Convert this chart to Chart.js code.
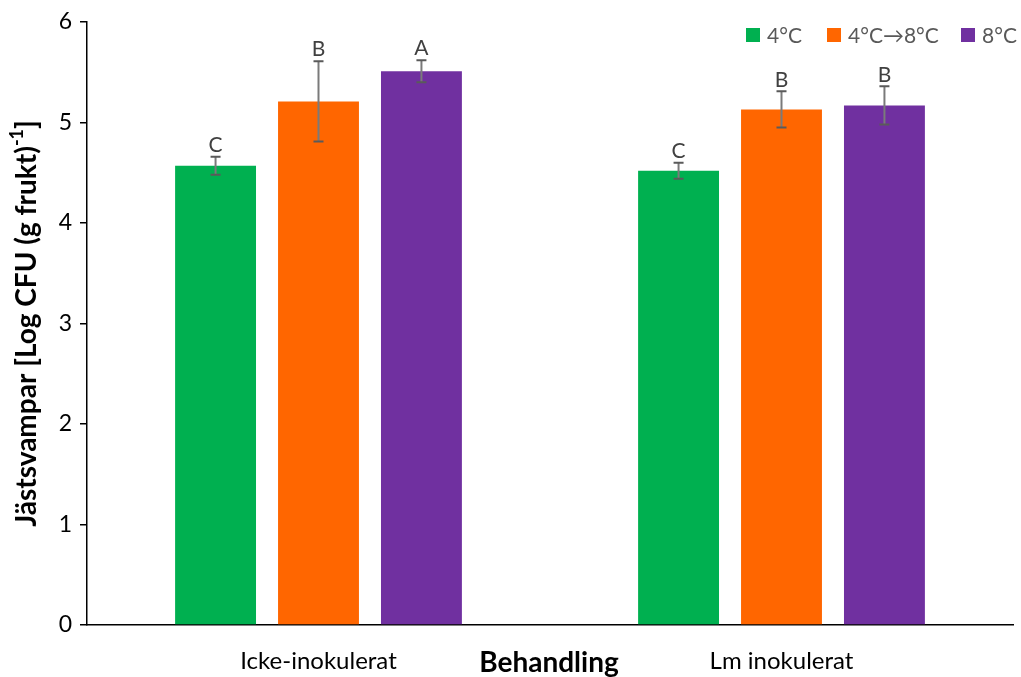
<!DOCTYPE html>
<html>
<head>
<meta charset="utf-8">
<script src="https://cdn.jsdelivr.net/npm/chart.js@4/dist/chart.umd.min.js"></script>
<style>
  html, body { margin: 0; padding: 0; background: #fff; }
  #wrap { width: 1021px; height: 677px; }
</style>
</head>
<body>
<div id="wrap"><canvas id="chart" width="1021" height="677"></canvas></div>
<script>
// Yeast counts per treatment and storage temperature
const categories = ['Icke-inokulerat', 'Lm inokulerat'];
const seriesNames = ['4°C', '4°C\u21928°C', '8°C'];
const seriesColors = ['#00b050', '#ff6600', '#7030a0'];

const values4 = [4.57, 4.52];
const values48 = [5.21, 5.13];
const values8 = [5.51, 5.17];

const err4 = [0.09, 0.08];
const err48 = [0.40, 0.18];
const err8 = [0.11, 0.19];

const letters4 = ['C', 'C'];
const letters48 = ['B', 'B'];
const letters8 = ['A', 'B'];

const yTicks = [0, 1, 2, 3, 4, 5, 6];

const FONT = 'Lato, "Open Sans", sans-serif';

const seriesValues = [values4, values48, values8];
const seriesErrors = [err4, err48, err8];
const seriesLetters = [letters4, letters48, letters8];

// Error bars, significance letters, legend and axis titles
const extras = {
    id: 'extras',
    afterDatasetsDraw(chart) {
        const ctx = chart.ctx;
        const y = chart.scales.y;
        const area = chart.chartArea;

        chart.data.datasets.forEach((ds, i) => {
            const meta = chart.getDatasetMeta(i);
            meta.data.forEach((bar, j) => {
                const v = ds.data[j];
                const e = ds.errors[j];
                const top = y.getPixelForValue(v + e);
                const bot = y.getPixelForValue(v - e);
                ctx.save();
                ctx.strokeStyle = '#7a7a7a';
                ctx.lineWidth = 2;
                ctx.beginPath();
                ctx.moveTo(bar.x, top);
                ctx.lineTo(bar.x, bot);
                ctx.stroke();
                ctx.strokeStyle = '#5a5a5a';
                ctx.beginPath();
                ctx.moveTo(bar.x - 5, top);
                ctx.lineTo(bar.x + 5, top);
                ctx.moveTo(bar.x - 5, bot);
                ctx.lineTo(bar.x + 5, bot);
                ctx.stroke();

                ctx.fillStyle = '#404040';
                ctx.font = '21px ' + FONT;
                ctx.textAlign = 'center';
                ctx.textBaseline = 'bottom';
                ctx.fillText(ds.letters[j], bar.x, top - 1);
                ctx.restore();
            });
        });

        // legend
        ctx.save();
        ctx.font = '21px ' + FONT;
        ctx.textBaseline = 'middle';
        ctx.textAlign = 'left';
        const legendX = [746, 827, 961];
        chart.data.datasets.forEach((ds, i) => {
            ctx.fillStyle = ds.backgroundColor;
            ctx.fillRect(legendX[i], 28, 14, 14);
            ctx.fillStyle = '#595959';
            ctx.fillText(ds.label, legendX[i] + 21, 36);
        });
        ctx.restore();

        // x axis title
        ctx.save();
        ctx.font = 'bold 28px ' + FONT;
        ctx.fillStyle = '#000';
        ctx.textAlign = 'center';
        ctx.textBaseline = 'middle';
        ctx.fillText('Behandling', 549, 663);
        ctx.restore();

        // y axis title with superscript
        ctx.save();
        const cy = (area.top + area.bottom) / 2;
        ctx.translate(27, cy);
        ctx.rotate(-Math.PI / 2);
        ctx.fillStyle = '#000';
        ctx.textBaseline = 'middle';
        ctx.textAlign = 'left';
        const main = 'Jästsvampar [Log CFU (g frukt)';
        const sup = '-1';
        const tail = ']';
        ctx.font = 'bold 28px ' + FONT;
        const wMain = ctx.measureText(main).width;
        const wTail = ctx.measureText(tail).width;
        ctx.font = 'bold 18px ' + FONT;
        const wSup = ctx.measureText(sup).width;
        const total = wMain + wSup + wTail;
        let px = -total / 2;
        ctx.font = 'bold 28px ' + FONT;
        ctx.fillText(main, px, 0);
        px += wMain;
        ctx.font = 'bold 18px ' + FONT;
        ctx.fillText(sup, px, -10);
        px += wSup;
        ctx.font = 'bold 28px ' + FONT;
        ctx.fillText(tail, px, 0);
        ctx.restore();
    }
};

const datasets = seriesNames.map((name, i) => ({
    label: name,
    data: seriesValues[i],
    errors: seriesErrors[i],
    letters: seriesLetters[i],
    backgroundColor: seriesColors[i],
    borderWidth: 0,
    categoryPercentage: 0.667,
    barPercentage: 0.786
}));

new Chart(document.getElementById('chart').getContext('2d'), {
    type: 'bar',
    data: { labels: categories, datasets: datasets },
    options: {
        responsive: false,
        animation: false,
        layout: { padding: { top: 22, right: 8, left: 0, bottom: 0 } },
        plugins: {
            legend: { display: false },
            tooltip: { enabled: false }
        },
        scales: {
            x: {
                grid: { drawOnChartArea: false, drawTicks: false },
                border: { display: true, color: '#000', width: 1.5 },
                ticks: {
                    color: '#000',
                    font: { family: FONT, size: 24 },
                    padding: 22
                },
                afterFit(scale) { scale.height = 52; }
            },
            y: {
                min: 0,
                max: 6,
                afterBuildTicks(scale) {
                    scale.ticks = yTicks.map(v => ({ value: v }));
                },
                grid: { drawOnChartArea: false, drawTicks: true, tickLength: 7, color: '#000', lineWidth: 1.5 },
                border: { display: true, color: '#000', width: 1.5 },
                ticks: {
                    color: '#000',
                    font: { family: FONT, size: 23 },
                    padding: 8
                },
                afterFit(scale) { scale.width = 87; }
            }
        }
    },
    plugins: [extras]
});
</script>
</body>
</html>
